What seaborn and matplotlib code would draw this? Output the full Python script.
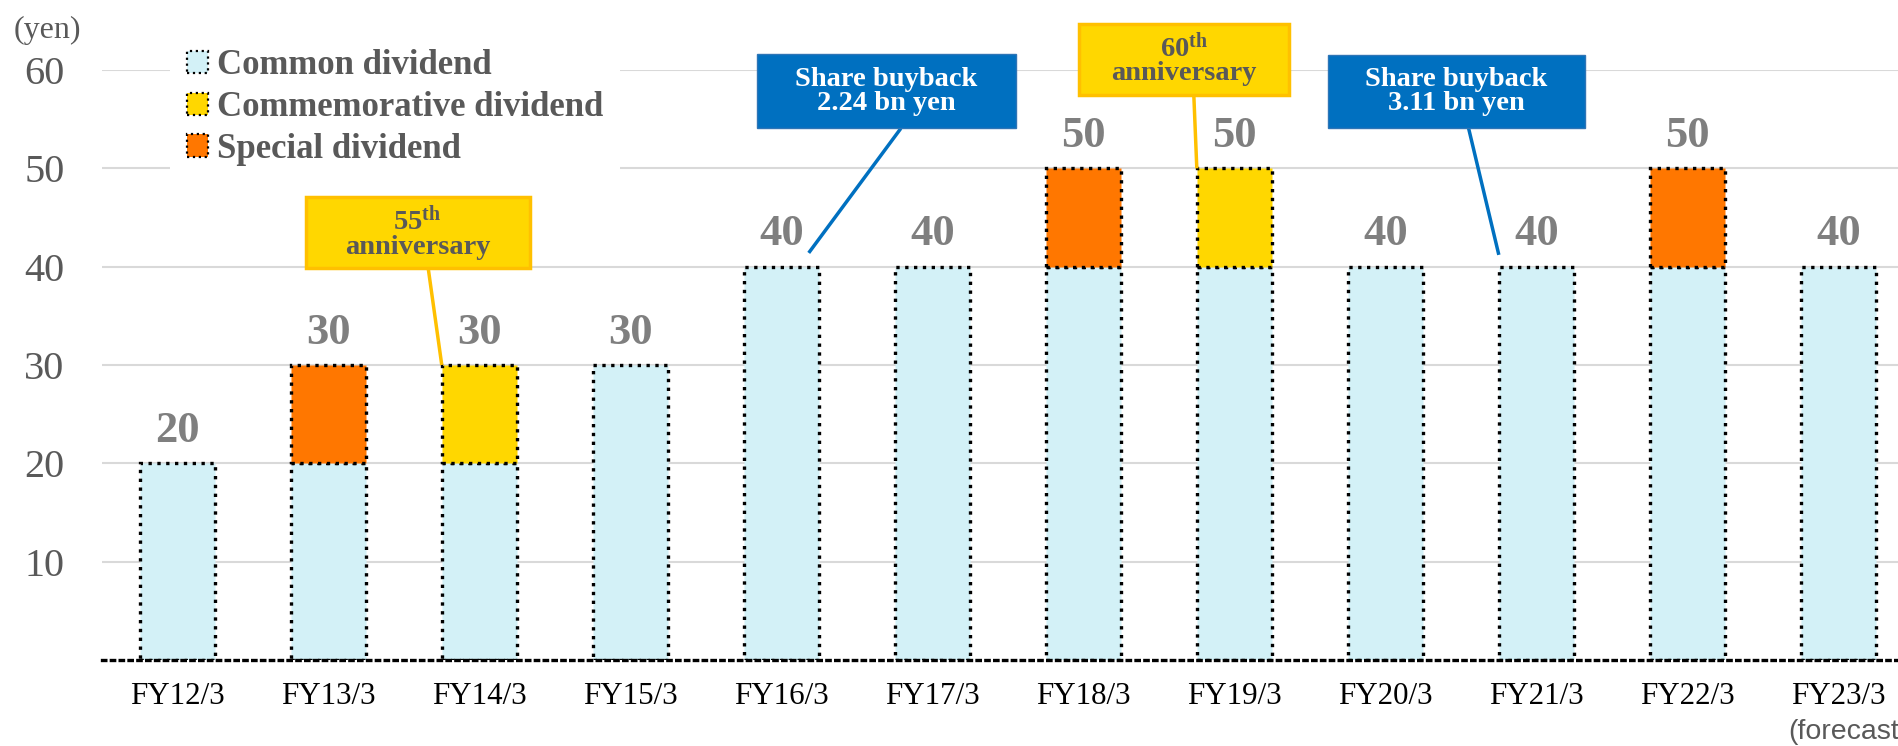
import matplotlib
matplotlib.use("Agg")
import matplotlib.pyplot as plt
import pandas as pd
import seaborn as sns
from matplotlib.patches import Patch, Rectangle

# Dividend per share (yen) by fiscal year
years = ["FY12/3", "FY13/3", "FY14/3", "FY15/3", "FY16/3", "FY17/3",
         "FY18/3", "FY19/3", "FY20/3", "FY21/3", "FY22/3", "FY23/3"]
common = [20, 20, 20, 30, 40, 40, 40, 40, 40, 40, 40, 40]
commemorative = [0, 0, 10, 0, 0, 0, 0, 10, 0, 0, 0, 0]
special = [0, 10, 0, 0, 0, 0, 10, 0, 0, 0, 10, 0]
yticks = [10, 20, 30, 40, 50, 60]
series_names = ["Common dividend", "Commemorative dividend", "Special dividend"]

CYAN = "#D3F1F7"
YELLOW = "#FFD700"
ORANGE = "#FF7700"
BLUE = "#0070C0"
GOLD_EDGE = "#FFC000"
DARK_GREY = "#595959"
LABEL_GREY = "#7F7F7F"

sns.set_theme(style="white")
plt.rcParams["font.family"] = ["Liberation Serif", "DejaVu Serif"]
plt.rcParams.update({
    "mathtext.fontset": "custom",
    "mathtext.rm": "Liberation Serif",
    "mathtext.bf": "Liberation Serif:bold",
    "mathtext.it": "Liberation Serif:italic",
})

df = pd.DataFrame({"year": years, "common": common,
                   "commemorative": commemorative, "special": special})
df["lower_two"] = df["common"] + df["commemorative"]
df["total"] = df["lower_two"] + df["special"]

W, H = 1899, 746
fig = plt.figure(figsize=(W / 100, H / 100), dpi=100)
ax = fig.add_axes([102 / W, 86 / H, 1 - 102 / W, 590 / H])

bar_kw = dict(width=0.5, edgecolor="black", linewidth=2.4, linestyle=":",
              saturation=1, errorbar=None, ax=ax, zorder=2)
# Stacked segments: common at the base, then commemorative, then special
sns.barplot(data=df, x="year", y="common", color=CYAN, **bar_kw)
sns.barplot(data=df, x="year", y="commemorative", color=YELLOW,
            bottom=df["common"].to_numpy(), **bar_kw)
sns.barplot(data=df, x="year", y="special", color=ORANGE,
            bottom=df["lower_two"].to_numpy(), **bar_kw)

# Empty segments would only add a stray dotted edge on top of the bar
for container in ax.containers:
    for patch in container.patches:
        if patch.get_height() == 0:
            patch.set_visible(False)

ax.bar_label(ax.containers[-1], labels=[str(v) for v in df["total"]],
             padding=9, fontsize=32, fontweight="bold", color=LABEL_GREY)

ax.set_xlim(-0.5, 11.4)
ax.set_ylim(0, 60)
ax.set_yticks(yticks)
ax.set_yticklabels([str(t) for t in yticks])
ax.yaxis.grid(True, color="#D9D9D9", linewidth=1.5)
ax.xaxis.grid(False)
ax.set_axisbelow(True)
ax.set_xlabel("")
ax.set_ylabel("")
for side in ("left", "right", "top"):
    ax.spines[side].set_visible(False)
ax.spines["bottom"].set_color("black")
ax.spines["bottom"].set_linestyle(":")
ax.spines["bottom"].set_linewidth(2.4)
ax.tick_params(axis="y", length=0, pad=27, labelsize=29, labelcolor=DARK_GREY)
ax.tick_params(axis="x", length=0, pad=16, labelsize=22.3, labelcolor="black")

fig.text(14 / W, 1 - 30 / H, "(yen)", fontsize=23, color=DARK_GREY,
         ha="left", va="center")
fig.text(1788 / W, 1 - 732 / H, "(forecast)", family=["Liberation Sans"],
         fontsize=20.5, color=DARK_GREY, ha="left", va="center")

handles = [Patch(facecolor=c, edgecolor="black", linestyle=":", linewidth=1.6,
                 label=n) for c, n in zip([CYAN, YELLOW, ORANGE], series_names)]
ax.legend(handles=handles, loc="upper left",
          bbox_to_anchor=(170 / W, 1 - 32 / H), bbox_transform=fig.transFigure,
          frameon=True, facecolor="white", edgecolor="none", framealpha=1,
          fancybox=False, prop={"weight": "bold", "size": 25,
                                "family": "Liberation Serif"},
          labelcolor=DARK_GREY, handlelength=0.6, handleheight=0.6,
          handletextpad=0.25, labelspacing=0.25, borderpad=0.5, borderaxespad=0)


def callout(x0, x1, y0, y1, text, face, edge, edge_lw, tcolor, start, end, lcolor):
    ax.add_patch(Rectangle((x0, y0), x1 - x0, y1 - y0, facecolor=face,
                           edgecolor=edge, linewidth=edge_lw, clip_on=False,
                           zorder=6))
    ax.text((x0 + x1) / 2, (y0 + y1) / 2, text, ha="center", va="center",
            fontsize=20.5, fontweight="bold", color=tcolor, linespacing=0.95,
            zorder=7, clip_on=False)
    ax.plot([start[0], end[0]], [start[1], end[1]], color=lcolor, lw=2.5,
            clip_on=False, zorder=5, solid_capstyle="butt")


half = 0.25
callout(0.848, 2.331, 39.86, 47.06, "$\\mathbf{55}^{\\mathbf{th}}$\nanniversary",
        YELLOW, GOLD_EDGE, 2.5, DARK_GREY, (1.66, 39.86), (2 - half, df["total"][2]),
        GOLD_EDGE)
callout(5.97, 7.36, 57.5, 64.7, "$\\mathbf{60}^{\\mathbf{th}}$\nanniversary",
        YELLOW, GOLD_EDGE, 2.5, DARK_GREY, (6.73, 57.5), (7 - half, df["total"][7]),
        GOLD_EDGE)
callout(3.84, 5.55, 54.06, 61.66, "Share buyback\n2.24 bn yen",
        BLUE, "#2E75B6", 1.0, "white", (4.79, 54.06), (4.18, 41.4), BLUE)
callout(7.62, 9.32, 54.06, 61.56, "Share buyback\n3.11 bn yen",
        BLUE, "#2E75B6", 1.0, "white", (8.55, 54.06), (9 - half, 41.2), BLUE)

fig.savefig("out.png", dpi=100)
